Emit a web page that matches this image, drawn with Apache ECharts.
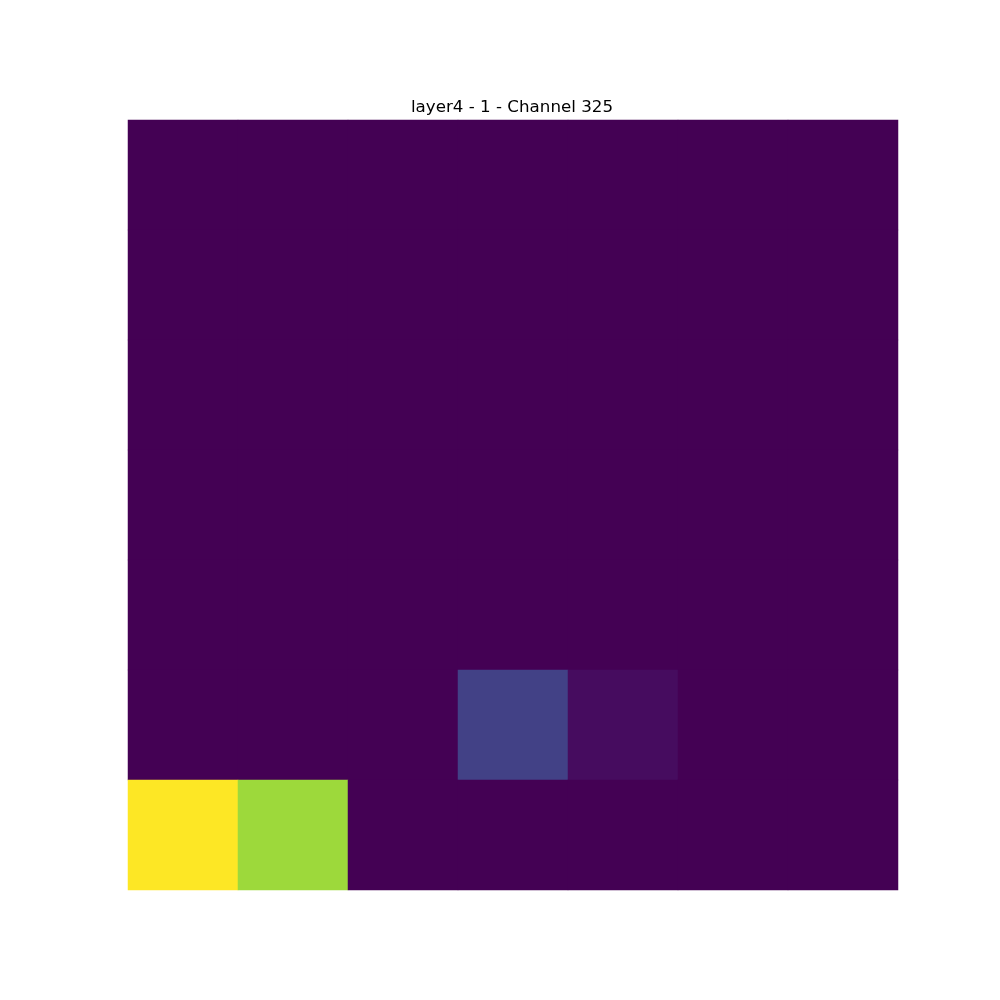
<!DOCTYPE html>
<html>
<head>
<meta charset="utf-8">
<script src="https://cdn.jsdelivr.net/npm/echarts@6/dist/echarts.min.js"></script>
<style>
  html, body { margin: 0; padding: 0; background: #fff; }
  #main { width: 1000px; height: 1000px; }
</style>
</head>
<body>
<div id="main"></div>
<script>
// feature map, 7x7, rows listed top to bottom
let rows = [0, 1, 2, 3, 4, 5, 6];
let cols = [0, 1, 2, 3, 4, 5, 6];
let values = [
    [0, 0, 0, 0, 0, 0, 0],
    [0, 0, 0, 0, 0, 0, 0],
    [0, 0, 0, 0, 0, 0, 0],
    [0, 0, 0, 0, 0, 0, 0],
    [0, 0, 0, 0, 0, 0, 0],
    [0, 0, 0, 0.19, 0.03, 0, 0],
    [1, 0.85, 0, 0, 0, 0, 0]
];

// viridis stops
let viridis = ['#440154', '#48186a', '#472d7b', '#424086', '#3b528b', '#33638d',
    '#2c728e', '#26828e', '#21918c', '#1fa088', '#28ae80', '#3fbc73',
    '#5ec962', '#84d44b', '#addc30', '#d8e219', '#fde725'];

let cells = [];
rows.forEach((r, i) => {
    cols.forEach((c, j) => {
        cells.push([j, i, values[i][j]]);
    });
});

let chartDom = document.getElementById("main");
let chart = echarts.init(chartDom);

chart.setOption({
    animation: false,
    backgroundColor: '#ffffff',
    title: {
        text: 'layer4 - 1 - Channel 325',
        left: 507,
        textAlign: 'center',
        top: 94,
        textStyle: { fontFamily: 'DejaVu Sans', fontSize: 16.7, fontWeight: 'normal', color: '#000' }
    },
    grid: { left: 128, top: 120, width: 770, height: 770 },
    xAxis: {
        type: 'category',
        data: cols,
        show: false
    },
    yAxis: {
        type: 'category',
        data: rows,
        inverse: true,
        show: false
    },
    visualMap: {
        show: false,
        min: 0,
        max: 1,
        dimension: 2,
        inRange: { color: viridis }
    },
    series: [{
        type: 'heatmap',
        data: cells,
        itemStyle: { borderWidth: 0 },
        emphasis: { disabled: true }
    }]
});
</script>
</body>
</html>
